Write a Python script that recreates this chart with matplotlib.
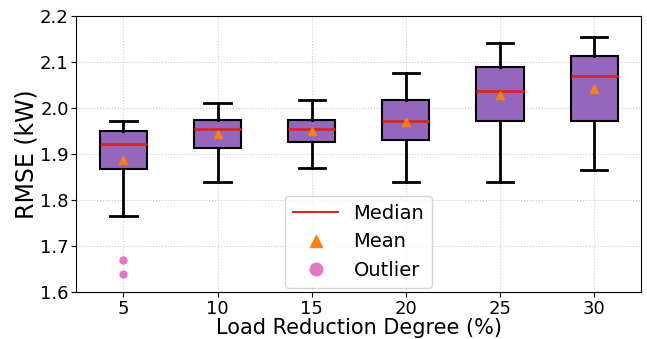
import numpy as np
import matplotlib.pyplot as plt
from matplotlib.lines import Line2D

degrees = ['5', '10', '15', '20', '25', '30']
whislo = [1.765, 1.839, 1.870, 1.839, 1.839, 1.864]
q1 = [1.867, 1.913, 1.926, 1.930, 1.971, 1.971]
med = [1.922, 1.954, 1.954, 1.971, 2.037, 2.070]
mean = [1.887, 1.943, 1.950, 1.970, 2.028, 2.041]
q3 = [1.950, 1.973, 1.973, 2.017, 2.089, 2.113]
whishi = [1.971, 2.011, 2.017, 2.077, 2.141, 2.154]
fliers = [[1.670, 1.639], [], [], [], [], []]

stats = []
for i in range(len(degrees)):
    stats.append(dict(label=degrees[i], whislo=whislo[i], q1=q1[i], med=med[i],
                      mean=mean[i], q3=q3[i], whishi=whishi[i], fliers=fliers[i]))

fig = plt.figure(figsize=(6.47, 3.39), dpi=100)
ax = fig.subplots()
plt.subplots_adjust(left=0.118, right=0.991, top=0.953, bottom=0.139)

ax.grid(True, linestyle=':', color='#cccccc', linewidth=0.8)
ax.set_axisbelow(True)

ax.bxp(stats, positions=np.arange(1, 7), widths=0.5, capwidths=0.28,
       showmeans=True, patch_artist=True,
       boxprops=dict(facecolor='#9467bd', edgecolor='black', linewidth=1.5),
       medianprops=dict(color='#d62728', linewidth=2),
       meanprops=dict(marker='^', markerfacecolor='#ff7f0e',
                      markeredgecolor='#ff7f0e', markersize=6),
       whiskerprops=dict(color='black', linewidth=2),
       capprops=dict(color='black', linewidth=2),
       flierprops=dict(marker='o', markerfacecolor='#e377c2',
                       markeredgecolor='#e377c2', markersize=5))

ax.set_xlim(0.5, 6.5)
ax.set_ylim(1.6, 2.2)
ax.set_xlabel('Load Reduction Degree (%)', fontsize=15, labelpad=0)
ax.set_ylabel('RMSE (kW)', fontsize=17, labelpad=1)
ax.tick_params(labelsize=13, pad=2)

handles = [Line2D([], [], color='#d62728', linewidth=1.5),
           Line2D([], [], marker='^', color='#ff7f0e', linestyle='None', markersize=9),
           Line2D([], [], marker='o', color='#e377c2', linestyle='None', markersize=9)]
ax.legend(handles, ['Median', 'Mean', 'Outlier'], loc='lower center', fontsize=14,
          handlelength=2.3, handletextpad=0.8, borderaxespad=0.2)

plt.savefig('out.png')
